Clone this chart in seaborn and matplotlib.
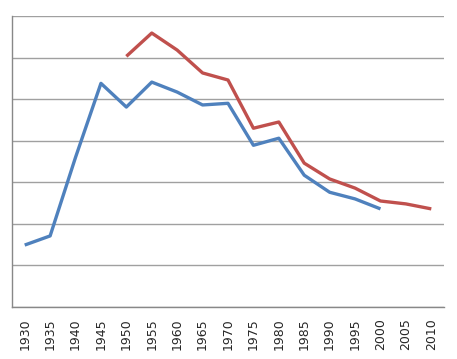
import matplotlib
matplotlib.use("Agg")
import matplotlib.pyplot as plt
import seaborn as sns
import numpy as np
import pandas as pd

years = list(range(1930, 2011, 5))
blue_years = list(range(1930, 2001, 5))
blue_vals = [1.49, 1.71, 3.6, 5.38, 4.81, 5.41, 5.17, 4.86, 4.9, 3.89, 4.06, 3.17, 2.76, 2.6, 2.36]
red_years = list(range(1950, 2011, 5))
red_vals = [6.03, 6.59, 6.18, 5.63, 5.46, 4.30, 4.45, 3.46, 3.08, 2.86, 2.55, 2.48, 2.36]

df = pd.concat([
    pd.DataFrame({"year": blue_years, "value": blue_vals, "series": "A"}),
    pd.DataFrame({"year": red_years, "value": red_vals, "series": "B"}),
])

sns.set_style("white")
fig = plt.figure(figsize=(4.57, 3.59), dpi=100)
ax = fig.add_axes([12/457, 1-307/359, 432/457, 291/359])
sns.lineplot(data=df, x="year", y="value", hue="series",
             palette={"A": "#4F81BD", "B": "#C0504D"}, linewidth=2.4,
             legend=False, ax=ax, solid_capstyle="butt")
ax.set_xlim(1930-2.5, 2010+2.5)
ax.set_ylim(0, 7)
ax.set_yticks(range(0, 8))
ax.set_yticklabels([])
ax.set_xticks(years)
ax.set_xticklabels([str(y) for y in years], rotation=90, fontsize=9)
ax.tick_params(axis="x", length=0, pad=8)
ax.tick_params(axis="y", length=0)
ax.grid(axis="y", color="#a0a0a0", linewidth=1)
ax.set_axisbelow(True)
ax.set_xlabel("")
ax.set_ylabel("")
for s in ["top", "right"]:
    ax.spines[s].set_visible(False)
for s in ["left", "bottom"]:
    ax.spines[s].set_color("#888888")
    ax.spines[s].set_linewidth(1)
fig.savefig("out.png", dpi=100)
